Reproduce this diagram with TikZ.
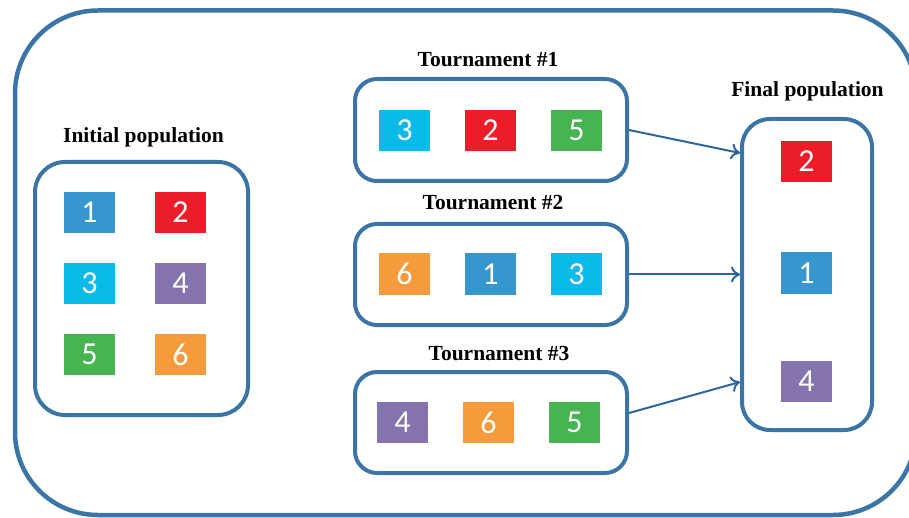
\documentclass[tikz,border=0pt]{standalone}
\usepackage{fontspec}
\setmainfont{Liberation Serif}
\newfontfamily\digitfont{Carlito}
\usetikzlibrary{arrows.meta}
\definecolor{frameblue}{RGB}{59,117,166}
\definecolor{arrowblue}{RGB}{46,101,160}
\definecolor{cblue}{RGB}{54,150,206}
\definecolor{cred}{RGB}{237,28,41}
\definecolor{ccyan}{RGB}{10,186,232}
\definecolor{cpurple}{RGB}{133,115,174}
\definecolor{cgreen}{RGB}{71,180,82}
\definecolor{corange}{RGB}{245,155,60}
\begin{document}
\begin{tikzpicture}[x=1pt,y=-1pt,
  groupbox/.style={draw=frameblue,line width=4pt,rounded corners=#1,fill=none,inner sep=0pt},
  chip/.style={fill=#1,text=white,minimum width=51pt,minimum height=41pt,inner sep=0pt,
    font=\digitfont\fontsize{32}{32}\selectfont},
  caption/.style={anchor=base,font=\bfseries\fontsize{21.5}{21.5}\selectfont},
  link/.style={draw=arrowblue,line width=2pt,-{To[length=9pt,width=16pt,line width=2pt]}}]
\useasboundingbox (0,0) rectangle (909,518);
% outer frame, running past the right edge
\begin{scope}
\clip (0,0) rectangle (909,518);
\draw[frameblue,line width=4.5pt,rounded corners=83pt] (15,10.5) rectangle (916,515);
\end{scope}

% group boxes
\node[groupbox=30pt,minimum width=213pt,minimum height=253pt] (init) at (141.5,288.5) {};
\node[groupbox=22pt,minimum width=272pt,minimum height=102pt] (t1) at (491,130) {};
\node[groupbox=22pt,minimum width=272pt,minimum height=101pt] (t2) at (491,274.5) {};
\node[groupbox=22pt,minimum width=272pt,minimum height=101pt] (t3) at (491,422.5) {};
\node[groupbox=28pt,minimum width=130pt,minimum height=311pt] (fin) at (807,274.5) {};

% captions
\node[caption] (initlbl) at (143.5,142.5) {Initial population};
\node[caption] (t1lbl) at (488,67) {Tournament \#1};
\node[caption] (t2lbl) at (493,210) {Tournament \#2};
\node[caption] (t3lbl) at (499,360) {Tournament \#3};
\node[caption] (finlbl) at (807.5,97) {Final population};

% initial population
\node[chip=cblue] (i1) at (89.5,212.5) {1};
\node[chip=cred] (i2) at (180.5,212.5) {2};
\node[chip=ccyan] (i3) at (89.5,283.5) {3};
\node[chip=cpurple] (i4) at (180.5,283.5) {4};
\node[chip=cgreen] (i5) at (89.5,354.5) {5};
\node[chip=corange] (i6) at (180.5,354.5) {6};

% tournament #1
\node[chip=ccyan] (a3) at (404.5,130.5) {3};
\node[chip=cred] (a2) at (490.5,130.5) {2};
\node[chip=cgreen] (a5) at (576.5,130.5) {5};
% tournament #2
\node[chip=corange] (b6) at (404.5,274) {6};
\node[chip=cblue] (b1) at (490.5,274) {1};
\node[chip=ccyan] (b3) at (576.5,274) {3};
% tournament #3
\node[chip=cpurple] (c4) at (402.5,422.5) {4};
\node[chip=corange] (c6) at (488.5,422.5) {6};
\node[chip=cgreen] (c5) at (574.5,422.5) {5};

% final population
\node[chip=cred] (f2) at (806.5,161.5) {2};
\node[chip=cblue] (f1) at (806.5,273) {1};
\node[chip=cpurple] (f4) at (806.5,381.5) {4};

% winners move on
\draw[link] (t1.east) -- ([yshift=121.5pt]fin.west);
\draw[link] (t2.east) -- (fin.west);
\draw[link] ([yshift=9.5pt]t3.east) -- ([yshift=-107.5pt]fin.west);
\end{tikzpicture}
\end{document}
